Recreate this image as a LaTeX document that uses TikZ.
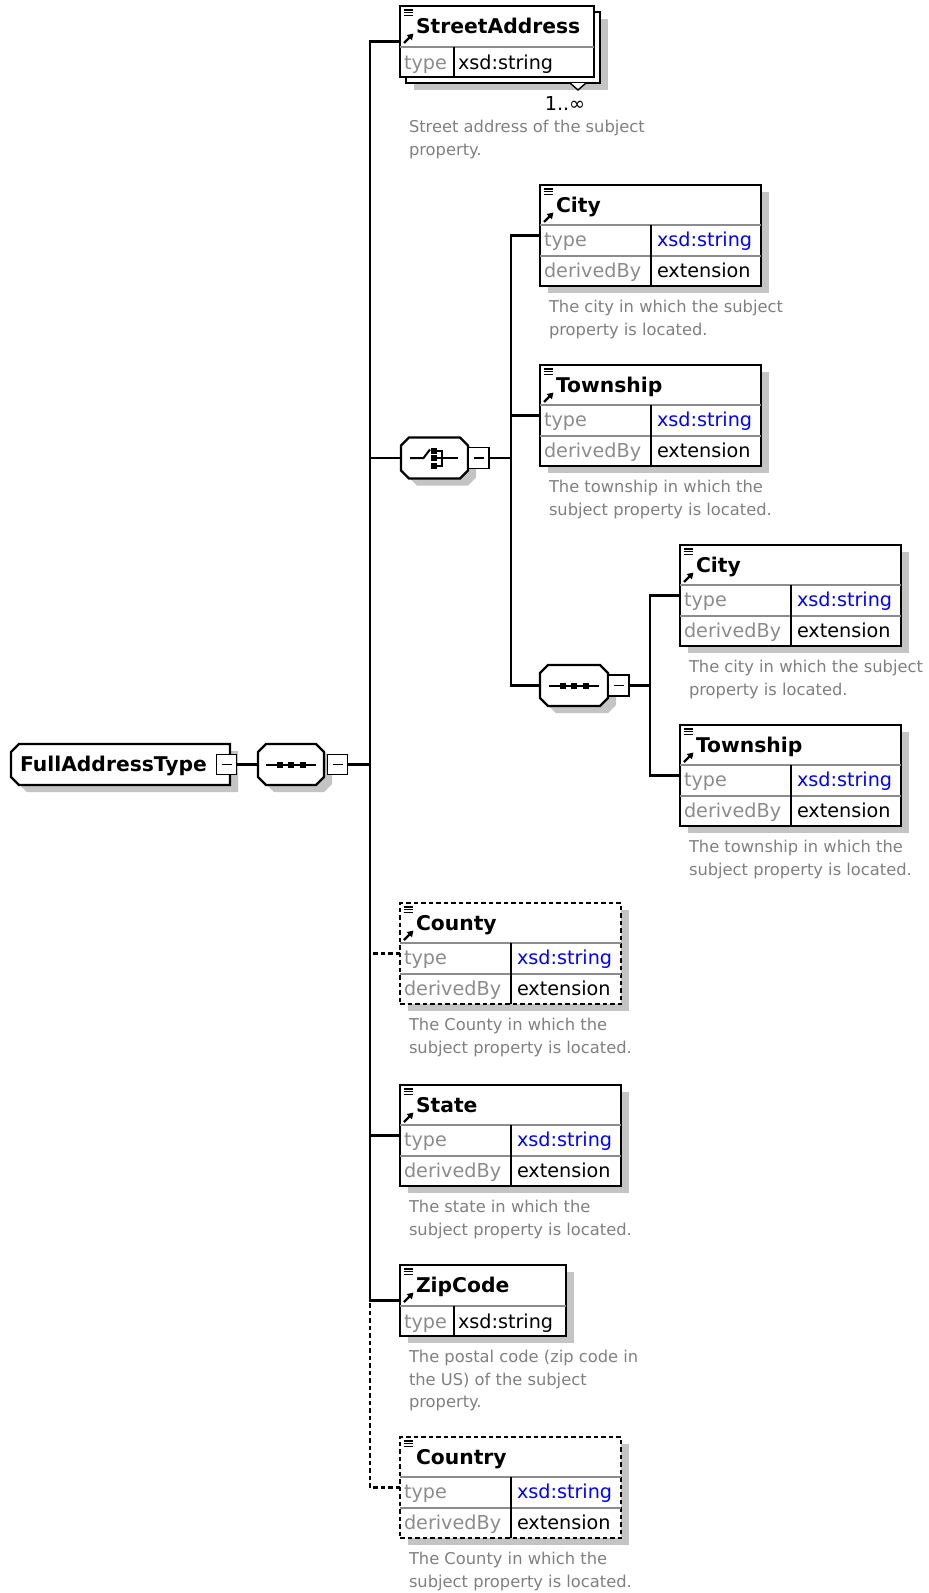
\documentclass[tikz,border=0pt]{standalone}
\usepackage{fontspec}
\setmainfont{DejaVu Sans}
\usetikzlibrary{positioning, calc, arrows.meta, shadows}
\definecolor{shadegray}{HTML}{C4C4C4}
\definecolor{keygray}{HTML}{8C8C8C}
\definecolor{descgray}{HTML}{808080}
\definecolor{xsdblue}{HTML}{0000FF}
\definecolor{linegray}{HTML}{8C8C8C}

% header icons of an element box
\newcommand{\docicon}[1]{%
  \foreach \dy in {4,6.8,9.6}
    {\draw[line width=1.3pt] ($(#1.north west)+(3.5,\dy)$) -- ++(9,0);}}
\newcommand{\refarrow}[1]{%
  \draw[line width=2.2pt, -{Triangle[length=6pt,width=7pt]}] ($(#1.north west)+(4,37)$) -- ++(9.5,-9.5);}

% octagon round a compositor node, shifted by (#2,#3)
\newcommand{\octo}[3]{($(#1.north west)+(8+#2,#3)$) -- ($(#1.north east)+(-8+#2,#3)$) -- ($(#1.north east)+(#2,8+#3)$) -- ($(#1.south east)+(#2,-8+#3)$) -- ($(#1.south east)+(-8+#2,#3)$) -- ($(#1.south west)+(8+#2,#3)$) -- ($(#1.south west)+(#2,-8+#3)$) -- ($(#1.north west)+(#2,8+#3)$) -- cycle}

% sequence icon
\newcommand{\seqicon}[1]{%
  \draw[line width=2pt] ($(#1.center)+(-25,0)$) -- ($(#1.center)+(25,0)$);
  \foreach \dx in {-11.5,0,11.5}
    {\fill ($(#1.center)+(\dx-3,-3)$) rectangle ++(6,6);}}

% element with type and derivedBy rows
\newcommand{\elemtwo}[4]{%
  \node[#4, minimum width=221pt, minimum height=101pt] (#1) at (#2) {};
  \draw[rowline] ($(#1.north west)+(0,40)$) -- ($(#1.north east)+(0,40)$);
  \draw[rowline] ($(#1.north west)+(0,71)$) -- ($(#1.north east)+(0,71)$);
  \draw[colline] ($(#1.north west)+(111,40)$) -- ($(#1.south west)+(111,0)$);
  \node[title] (#1-title) at ($(#1.north west)+(16,27.5)$) {#3};
  \node[key] (#1-k1) at ($(#1.north west)+(4,61.5)$) {type};
  \node[val, text=xsdblue] (#1-v1) at ($(#1.north west)+(117,61.5)$) {xsd:string};
  \node[key] (#1-k2) at ($(#1.north west)+(4,92)$) {derivedBy};
  \node[val] (#1-v2) at ($(#1.north west)+(117,92)$) {extension};
  \docicon{#1}}

% element with a type row only
\newcommand{\elemone}[5]{%
  \node[#5, minimum width=#4pt, minimum height=71pt] (#1) at (#2) {};
  \draw[rowline] ($(#1.north west)+(0,41)$) -- ($(#1.north east)+(0,41)$);
  \draw[colline] ($(#1.north west)+(54,41)$) -- ($(#1.south west)+(54,0)$);
  \node[title] (#1-title) at ($(#1.north west)+(16,27.5)$) {#3};
  \node[key] (#1-k1) at ($(#1.north west)+(4,63)$) {type};
  \node[val] (#1-v1) at ($(#1.north west)+(58,63)$) {xsd:string};
  \docicon{#1}\refarrow{#1}}

\begin{document}
\begin{tikzpicture}[
    x=1pt, y=-1pt,
    every node/.style={inner sep=0pt, outer sep=0pt},
    elembase/.style={
        rectangle,
        draw,
        fill=white,
        line width=2.3pt,
        anchor=north west
    },
    elem/.style={
        elembase,
        drop shadow={shadow xshift=8pt, shadow yshift=-7pt, fill=shadegray, opacity=1}
    },
    optional/.style={dash pattern=on 4.5pt off 3pt},
    octnode/.style={rectangle, minimum height=41pt},
    compo/.style={draw, fill=white, line width=2.2pt},
    minus/.style={
        rectangle,
        draw,
        fill=white,
        line width=1.8pt,
        minimum width=20pt,
        minimum height=20pt
    },
    conn/.style={line width=2.2pt},
    rowline/.style={draw=linegray, line width=1.7pt},
    colline/.style={draw=black, line width=1.7pt},
    title/.style={anchor=base west, font=\fontsize{20.3}{22}\selectfont\bfseries},
    key/.style={anchor=base west, text=keygray, font=\fontsize{19.2}{22}\selectfont},
    val/.style={anchor=base west, font=\fontsize{19.2}{22}\selectfont},
    desc/.style={align=left, text=descgray, font=\fontsize{16.3}{22.5}\selectfont}
]
\path[use as bounding box, fill=white] (0,0) rectangle (929,1593);

% Nodes - complex type and main sequence
\node[octnode, minimum width=219pt] (fat) at (120.5,764.5) {};
\fill[shadegray] ($(fat.north west)+(16,7)$) -- ($(fat.north east)+(8,7)$) -- ($(fat.south east)+(8,7)$) -- ($(fat.south west)+(16,7)$) -- ($(fat.south west)+(8,-1)$) -- ($(fat.north west)+(8,15)$) -- cycle;
\draw[compo] ($(fat.north west)+(8,0)$) -- (fat.north east) -- (fat.south east) -- ($(fat.south west)+(8,0)$) -- ($(fat.south west)+(0,-8)$) -- ($(fat.north west)+(0,8)$) -- cycle;
\node[title] (fattext) at (20,771.5) {FullAddressType};
\node[minus] (fatm) at (226.5,764.5) {\rule{10pt}{1.8pt}};

\node[octnode, minimum width=66pt] (mainseq) at (291,764.5) {};
\fill[shadegray] \octo{mainseq}{8}{7};
\draw[compo] \octo{mainseq}{0}{0};
\seqicon{mainseq}
\node[minus] (mainm) at (337.5,764.5) {\rule{10pt}{1.8pt}};

% Nodes - choice and nested sequence
\node[octnode, minimum width=67pt] (choice) at (434.5,458) {};
\fill[shadegray] \octo{choice}{8}{7};
\draw[compo] \octo{choice}{0}{0};
\draw[line width=2pt] ($(choice.center)+(-24.5,0)$) -- ++(13.5,0) -- ++(6.5,-8.5);
\foreach \dy in {-7.5,0,7.5}
  {\fill ($(choice.center)+(-4,\dy-3)$) rectangle ++(6,6);}
\draw[line width=2pt] ($(choice.center)+(2,-7.5)$) -| ($(choice.center)+(7.5,7.5)$) -- ++(-5.5,0);
\draw[line width=2pt] ($(choice.center)+(2,0)$) -- ++(21.5,0);
\node[minus, minimum width=21pt, minimum height=21pt] (choicem) at (478.5,458) {\rule{10pt}{1.8pt}};

\node[octnode, minimum width=68pt] (seq2) at (574,685.5) {};
\fill[shadegray] \octo{seq2}{8}{7};
\draw[compo] \octo{seq2}{0}{0};
\seqicon{seq2}
\node[minus, minimum width=21pt, minimum height=21pt] (seq2m) at (618.5,685.5) {\rule{10pt}{1.8pt}};

% Nodes - elements
\node[elem, minimum width=194pt, minimum height=71pt] (streetback) at (406,12) {};
\draw[line width=1.4pt, fill=white] (570,83) -- (578,90) -- (586,83);
\elemone{street}{400,6}{StreetAddress}{194}{elembase}
\node[val, anchor=center] (streetocc) at (565,103) {1..∞};

\elemtwo{city1}{540,185}{City}{elem}
\elemtwo{town1}{540,365}{Township}{elem}
\elemtwo{city2}{680,545}{City}{elem}
\elemtwo{town2}{680,725}{Township}{elem}
\elemtwo{county}{400,903}{County}{elem, optional}
\elemtwo{state}{400,1085}{State}{elem}
\elemone{zip}{400,1265}{ZipCode}{166}{elem}
\elemtwo{country}{400,1437}{Country}{elem, optional}
\foreach \n in {city1, town1, city2, town2, county, state}
  {\refarrow{\n}}

% Labels
\node[desc, below right=43.5pt and 9pt of street.south west] (streetdesc) {Street address of the subject\\property.};
\node[desc, below right=14.5pt and 9pt of city1.south west] (city1desc) {The city in which the subject\\property is located.};
\node[desc, below right=14.5pt and 9pt of town1.south west] (town1desc) {The township in which the\\subject property is located.};
\node[desc, below right=14.5pt and 9pt of city2.south west] (city2desc) {The city in which the subject\\property is located.};
\node[desc, below right=14.5pt and 9pt of town2.south west] (town2desc) {The township in which the\\subject property is located.};
\node[desc, below right=14.5pt and 9pt of county.south west] (countydesc) {The County in which the\\subject property is located.};
\node[desc, below right=14.5pt and 9pt of state.south west] (statedesc) {The state in which the\\subject property is located.};
\node[desc, below right=14.5pt and 9pt of zip.south west] (zipdesc) {The postal code (zip code in\\the US) of the subject\\property.};
\node[desc, below right=14.5pt and 9pt of country.south west] (countrydesc) {The County in which the\\subject property is located.};

% Connectors
\coordinate (trunk) at (370,764.5);
\coordinate (chbr) at (511,458);
\coordinate (seqbr) at (650,685.5);
\draw[conn] (fatm.east) -- (mainseq.west);
\draw[conn] (mainm.east) -- (trunk);
\draw[conn] (street.west) -| (trunk);
\draw[conn] (zip.west) -| (trunk);
\draw[conn] (choice.west) -- (choice.west -| trunk);
\draw[conn, optional] (county.west) -- (county.west -| trunk);
\draw[conn] (state.west) -- (state.west -| trunk);
\draw[conn, optional] (country.west) -| (zip.west -| trunk);
\draw[conn] (choicem.east) -- (chbr);
\draw[conn] (city1.west) -| (chbr);
\draw[conn] (town1.west) -- (town1.west -| chbr);
\draw[conn] (seq2.west) -| (chbr);
\draw[conn] (seq2m.east) -- (seqbr);
\draw[conn] (city2.west) -| (seqbr);
\draw[conn] (town2.west) -| (seqbr);

\end{tikzpicture}
\end{document}
